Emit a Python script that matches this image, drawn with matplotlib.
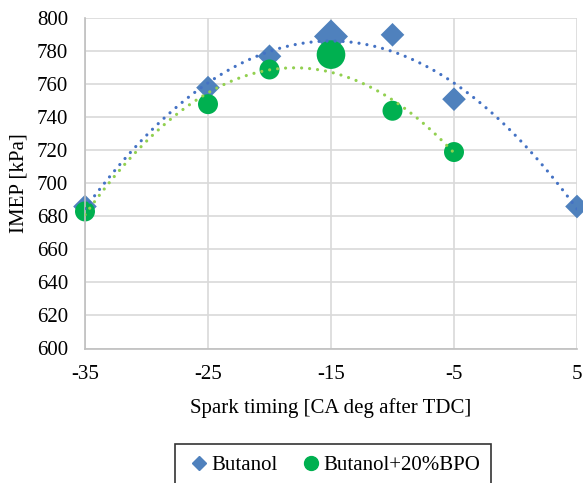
import numpy as np
import matplotlib
matplotlib.use("Agg")
import matplotlib.pyplot as plt
from matplotlib.lines import Line2D

plt.rcParams['font.family'] = ['Liberation Serif', 'DejaVu Serif']
plt.rcParams['axes.unicode_minus'] = False

# Spark timing sweep [CA deg after TDC] and IMEP [kPa]
butanol_x = [-35, -25, -20, -15, -10, -5, 5]
butanol_y = [686, 758, 777, 789, 790, 751, 686]
butanol_size = [1, 1, 1, 2, 1, 1, 1]   # 2 = highlighted optimum point

bpo_x = [-35, -25, -20, -15, -10, -5]
bpo_y = [683, 748, 769, 778, 744, 719]
bpo_size = [1, 1, 1, 2, 1, 1]

x_ticks = [-35, -25, -15, -5, 5]
y_ticks = list(range(600, 801, 20))

blue = '#4F81BD'
blue_trend = '#4472C4'
green = '#00B050'
green_trend = '#92D050'

W, H = 583, 483
fig = plt.figure(figsize=(W / 100, H / 100), dpi=100)
ax = fig.add_axes([85 / W, 1 - 348.5 / H, (577 - 85) / W, (348.5 - 18.3) / H])

ax.set_xlim(-35, 5)
ax.set_ylim(600, 800)
ax.set_xticks(x_ticks)
ax.set_yticks(y_ticks)
ax.grid(True, color='#D9D9D9', linewidth=1.2)
ax.set_axisbelow(True)
for side in ['top', 'right']:
    ax.spines[side].set_visible(False)
for side in ['left', 'bottom']:
    ax.spines[side].set_color('#BFBFBF')
    ax.spines[side].set_linewidth(1.2)
ax.tick_params(length=0, labelsize=15)
ax.tick_params(axis='x', pad=12)
ax.tick_params(axis='y', pad=12)

# Second-order polynomial trendlines
for xs, ys, col in [(butanol_x, butanol_y, blue_trend), (bpo_x, bpo_y, green_trend)]:
    c = np.polyfit(xs, ys, 2)
    xx = np.linspace(min(xs), max(xs), 300)
    ax.plot(xx, np.polyval(c, xx), linestyle=(0, (0.01, 2.5)), color=col,
            linewidth=2.3, dash_capstyle='round', zorder=3)

bs = np.array([145 if s == 1 else 300 for s in butanol_size])
gs = np.array([207 if s == 1 else 425 for s in bpo_size])
ax.scatter(butanol_x, butanol_y, s=bs, marker='D', color=blue, linewidths=0,
           zorder=2, clip_on=False)
ax.scatter(bpo_x, bpo_y, s=gs, marker='o', color=green, linewidths=0,
           zorder=2, clip_on=False)

ax.set_xlabel('Spark timing [CA deg after TDC]', fontsize=15, labelpad=10)
ax.set_ylabel('IMEP [kPa]', fontsize=15, labelpad=6)

handles = [
    Line2D([], [], marker='D', color=blue, linestyle='none', markersize=7),
    Line2D([], [], marker='o', color=green, linestyle='none', markersize=10),
]
leg = fig.legend(handles, ['Butanol', 'Butanol+20%BPO'], loc='upper center',
                 bbox_to_anchor=(333 / W, 1 - 444 / H), borderaxespad=0,
                 ncol=2, fontsize=15, frameon=True, fancybox=False,
                 edgecolor='black', handletextpad=0.0, columnspacing=1.0,
                 borderpad=0.55, handlelength=1.2)
leg.get_frame().set_linewidth(1.2)

fig.savefig('out.png', dpi=100)
